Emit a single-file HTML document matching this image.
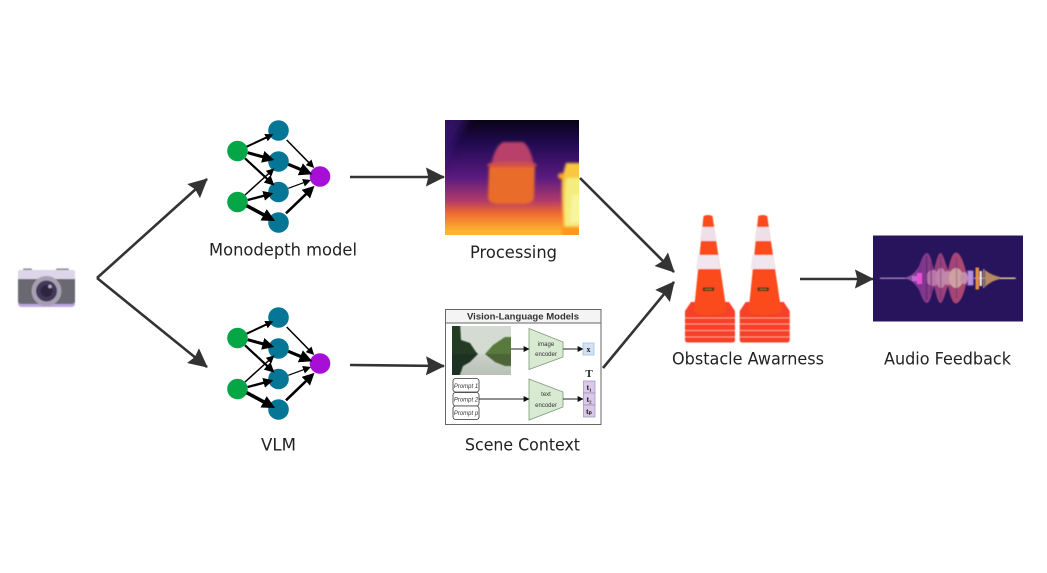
<!DOCTYPE html>
<html><head><meta charset="utf-8"><style>
html,body{margin:0;padding:0;background:#fff;width:1047px;height:573px;overflow:hidden}
svg{display:block}
.l{font-family:"DejaVu Sans","Liberation Sans",sans-serif;font-size:17px;fill:#222}
.h{font-family:"Liberation Sans",sans-serif;font-weight:bold;font-size:9.5px;fill:#333}
.s{font-family:"Liberation Sans",sans-serif;font-size:6px;fill:#333;text-anchor:middle}
.p{font-family:"Liberation Sans",sans-serif;font-style:italic;font-size:6px;fill:#333;text-anchor:middle}
.b{font-family:"Liberation Serif",serif;font-weight:bold;font-size:8px;fill:#222;text-anchor:middle}
</style></head><body>
<svg width="1047" height="573" viewBox="0 0 1047 573" xmlns="http://www.w3.org/2000/svg">
<defs>
<marker id="m8" viewBox="0 0 10 10" refX="7" refY="5" markerUnits="userSpaceOnUse" markerWidth="8" markerHeight="8" orient="auto"><path d="M0 0L10 5L0 10Z" fill="#000"/></marker>
<marker id="m10" viewBox="0 0 10 10" refX="7" refY="5" markerUnits="userSpaceOnUse" markerWidth="10" markerHeight="10" orient="auto"><path d="M0 0L10 5L0 10Z" fill="#000"/></marker>
<marker id="m12" viewBox="0 0 10 10" refX="7" refY="5" markerUnits="userSpaceOnUse" markerWidth="12" markerHeight="12" orient="auto"><path d="M0 0L10 5L0 10Z" fill="#000"/></marker>
<marker id="m13" viewBox="0 0 10 10" refX="7" refY="5" markerUnits="userSpaceOnUse" markerWidth="13" markerHeight="13" orient="auto"><path d="M0 0L10 5L0 10Z" fill="#000"/></marker>
<marker id="big" viewBox="0 0 20 20" refX="19" refY="10" markerUnits="userSpaceOnUse" markerWidth="19" markerHeight="19" orient="auto"><path d="M0 0L20 10L0 20L2.500 10Z" fill="#333"/></marker>
<marker id="sm" viewBox="0 0 10 10" refX="9" refY="5" markerUnits="userSpaceOnUse" markerWidth="6" markerHeight="6" orient="auto"><path d="M0 0L10 5L0 10Z" fill="#111"/></marker>
<linearGradient id="dg" x1="0" y1="0" x2="0" y2="1">
<stop offset="0" stop-color="#0a0416"/><stop offset=".2" stop-color="#200a50"/><stop offset=".5" stop-color="#5a1a80"/><stop offset=".7" stop-color="#b03a6a"/><stop offset=".81" stop-color="#ee6a30"/><stop offset=".96" stop-color="#fdb030"/><stop offset="1" stop-color="#fdb932"/>
</linearGradient>
<linearGradient id="wat" x1="0" y1="0" x2="0" y2="1"><stop offset="0" stop-color="#cdd2cb"/><stop offset="1" stop-color="#b8c0b8"/></linearGradient>
<linearGradient id="env" x1="0" y1="0" x2="1" y2="0"><stop offset="0" stop-color="#a065b5"/><stop offset=".25" stop-color="#7a3590"/><stop offset=".55" stop-color="#96407e"/><stop offset="1" stop-color="#b04870"/></linearGradient>
<filter id="b1" x="-20%" y="-20%" width="140%" height="140%"><feGaussianBlur stdDeviation="1.3"/></filter>
<filter id="b3" x="-30%" y="-30%" width="160%" height="160%"><feGaussianBlur stdDeviation="5"/></filter>
<filter id="b0" x="-10%" y="-10%" width="120%" height="120%"><feGaussianBlur stdDeviation=".5"/></filter>
<clipPath id="dc"><rect x="445" y="120" width="134" height="115"/></clipPath>
<clipPath id="ph"><rect x="452" y="326" width="59" height="49"/></clipPath>
<g id="net">
<circle cx="237.500" cy="151" r="10.300" fill="#04a645"/>
<circle cx="237.500" cy="202" r="10.300" fill="#04a645"/>
<circle cx="278.500" cy="130.500" r="10.300" fill="#057696"/>
<circle cx="278.500" cy="161.500" r="10.300" fill="#057696"/>
<circle cx="278.500" cy="192" r="10.300" fill="#057696"/>
<circle cx="278.500" cy="222.500" r="10.300" fill="#057696"/>
<circle cx="320" cy="176.500" r="10.300" fill="#a80fd6"/>
<g stroke="#000" fill="none">
<line x1="246.700" y1="146.700" x2="271.100" y2="135.300" stroke-width="2" marker-end="url(#m8)"/>
<line x1="247.700" y1="152.700" x2="270.800" y2="159" stroke-width="3" marker-end="url(#m12)"/>
<line x1="245" y1="158.300" x2="272.200" y2="183.600" stroke-width="2.200" marker-end="url(#m10)"/>
<line x1="245" y1="195" x2="272.600" y2="170" stroke-width="1.500" marker-end="url(#m8)"/>
<line x1="247.700" y1="200" x2="270.400" y2="194" stroke-width="2.400" marker-end="url(#m10)"/>
<line x1="246.700" y1="205.700" x2="271.600" y2="219.100" stroke-width="3.500" marker-end="url(#m13)"/>
<line x1="286.700" y1="140" x2="312.500" y2="166.300" stroke-width="1.500" marker-end="url(#m8)"/>
<line x1="288.300" y1="164.300" x2="308.700" y2="172.800" stroke-width="3.200" marker-end="url(#m13)"/>
<line x1="288.300" y1="188.300" x2="308.700" y2="180.800" stroke-width="1.300" marker-end="url(#m8)"/>
<line x1="286" y1="213.300" x2="311.900" y2="188.400" stroke-width="2.600" marker-end="url(#m12)"/>
</g>
</g>
<g id="cone">
<g filter="url(#b0)">
<path d="M691 302H729L735 311V340Q735 342.500 732 342.500H688Q685 342.500 685 340V311Z" fill="#f6412a"/>
<g stroke="#ff9a80" stroke-width="1">
<line x1="685" y1="318" x2="735" y2="318"/>
<line x1="685" y1="324" x2="735" y2="324"/>
<line x1="685" y1="330.500" x2="735" y2="330.500"/>
<line x1="685" y1="337" x2="735" y2="337"/>
</g>
<path d="M703.500 216Q708 214 712.500 216L725 300L727 312Q709 318 693 312L695 300Z" fill="#fb4b1e"/>
<path d="M701.800 227H714.200L716.200 241H700Z" fill="#eedfe8"/>
<path d="M697.800 255H718.200L720.200 269H696Z" fill="#f2e6ee"/>
<rect x="703" y="287.500" width="11" height="3.500" fill="#2a2018"/>
<rect x="704.500" y="288.700" width="8" height="1.100" fill="#a89030"/>
</g>
</g>
</defs>
<rect width="1047" height="573" fill="#fff"/>

<!-- camera -->
<g filter="url(#b0)">
<rect x="23" y="268.500" width="9" height="3" rx="1" fill="#8a8790"/>
<rect x="56" y="268.500" width="13" height="3" rx="1" fill="#8a8790"/>
<rect x="18" y="270" width="57" height="37" rx="3.500" fill="#bca6e0"/>
<rect x="18" y="270" width="57" height="34" rx="3" fill="#6b6870"/>
<path d="M18 279V273Q18 270 21 270H72Q75 270 75 273V279Z" fill="#dcd6e8"/>
<circle cx="46.500" cy="291" r="15" fill="#a5a1b0"/>
<circle cx="46.500" cy="291" r="10.500" fill="#43395a"/>
<circle cx="46.500" cy="291" r="6" fill="#2e2740"/>
<circle cx="50" cy="286.500" r="1.800" fill="#b6afc4"/>
</g>

<!-- networks -->
<use href="#net"/>
<use href="#net" y="187"/>

<!-- depth map -->
<g clip-path="url(#dc)">
<rect x="445" y="120" width="134" height="115" fill="url(#dg)"/>
<path d="M435 110H472L452 145L440 175Z" fill="#3d1578" opacity=".75" filter="url(#b3)"/>
<g filter="url(#b1)">
<path d="M503 142H523Q530 146 534 165H491Q495 146 503 142Z" fill="#b8406a"/>
<ellipse cx="512" cy="165" rx="25" ry="3.500" fill="#d0504e"/>
<path d="M489 167H535L534 198Q533 203 525 204H497Q489 203 488 198Z" fill="#ea6c2c"/>
<path d="M566 163H590V228H564Q561 200 562 178Z" fill="#f9c840"/>
<path d="M568 178H590V226H565Q564 200 566 180Z" fill="#f5ec80"/>
<path d="M572 195H590V222H570Z" fill="#f6f5a0"/>
<ellipse cx="561" cy="176" rx="3" ry="3" fill="#f5a020"/>
<rect x="562" y="227" width="27" height="10" fill="#fb9a1c"/>
</g>
</g>

<!-- VLM panel -->
<rect x="445.500" y="309.500" width="155.500" height="115" fill="#fff" stroke="#666" stroke-width="1"/>
<rect x="445.500" y="309.500" width="155.500" height="13.500" fill="#f4f4f4" stroke="#666" stroke-width="1"/>
<text x="523" y="319.500" class="h" text-anchor="middle" textLength="112" lengthAdjust="spacingAndGlyphs">Vision-Language Models</text>
<g clip-path="url(#ph)">
<rect x="452" y="326" width="59" height="28" fill="#d3dbd2"/>
<rect x="452" y="354" width="59" height="21" fill="url(#wat)"/>
<g filter="url(#b0)">
<path d="M448 322H460L461 340L470 343L476 352L478 354H448Z" fill="#243a24"/>
<path d="M515 337H505L493 345L485 354H515Z" fill="#587a3c"/>
<path d="M448 354H478L470 362L463 366L458 380H448Z" fill="#1f3020"/>
<path d="M515 354H485L495 362L505 366H515Z" fill="#4d6338"/>
</g>
</g>
<path d="M529 328.500L563 342V357L529 369.500Z" fill="#d9ead3" stroke="#7e9a78" stroke-width=".8"/>
<path d="M529 379L563 392V407L529 420Z" fill="#d9ead3" stroke="#7e9a78" stroke-width=".8"/>
<text x="546" y="346" class="s">image</text><text x="546" y="356" class="s">encoder</text>
<text x="546" y="396" class="s">text</text><text x="546" y="407" class="s">encoder</text>
<g stroke="#222" stroke-width=".9" fill="none">
<line x1="511" y1="349" x2="529" y2="349" marker-end="url(#sm)"/>
<line x1="563" y1="349" x2="583" y2="349" marker-end="url(#sm)"/>
<line x1="479" y1="399" x2="529" y2="399" marker-end="url(#sm)"/>
<line x1="563" y1="399" x2="583" y2="399" marker-end="url(#sm)"/>
</g>
<rect x="583" y="343" width="11" height="12" fill="#d3e3f5" stroke="#9db8d8" stroke-width=".7"/>
<text x="588.500" y="352" class="b">x</text>
<text x="589" y="377" class="b" style="font-size:11px">T</text>
<rect x="583.500" y="381" width="11.500" height="12" fill="#d9c8e8" stroke="#a08cba" stroke-width=".7"/>
<rect x="583.500" y="393" width="11.500" height="12" fill="#d9c8e8" stroke="#a08cba" stroke-width=".7"/>
<rect x="583.500" y="405" width="11.500" height="12" fill="#d9c8e8" stroke="#a08cba" stroke-width=".7"/>
<text x="589" y="390" class="b">t₁</text><text x="589" y="402" class="b">t₂</text><text x="589" y="414" class="b">tₚ</text>
<rect x="453" y="378.500" width="26" height="13.500" rx="2.500" fill="#fff" stroke="#333" stroke-width=".8"/>
<rect x="453" y="392.500" width="26" height="13.500" rx="2.500" fill="#fff" stroke="#333" stroke-width=".8"/>
<rect x="453" y="406" width="26" height="13.500" rx="2.500" fill="#fff" stroke="#333" stroke-width=".8"/>
<text x="466" y="388" class="p">Prompt 1</text><text x="466" y="401.500" class="p">Prompt 2</text><text x="466" y="415" class="p">Prompt p</text>

<!-- cones -->
<use href="#cone"/>
<use href="#cone" x="54.700"/>

<!-- audio -->
<rect x="873" y="235.500" width="150" height="86" fill="#27145c"/>
<g filter="url(#b0)">
<line x1="880" y1="278.300" x2="1016" y2="278.300" stroke="#c9b4d6" stroke-width="1"/>
<path d="M903 278C912 277 916 271 919 266C922 258 924 253 927 253C930 253 932 262 934 270C936 262 938 253 940.500 253C943 253 945 262 948 270C950 262 952 252.500 956 252.500C960 252.500 964 262 966 272L967 278L966 284C964 294 960 303.500 956 303.500C952 303.500 950 294 948 286C945 294 943 303 940.500 303C938 303 936 294 934 286C932 294 930 303 927 303C924 303 922 298 919 290C916 285 912 279 903 278Z" fill="url(#env)"/>
<rect x="966" y="270" width="8" height="16" rx="2" fill="#4a35a8"/>
<ellipse cx="933" cy="278" rx="7" ry="8" fill="#b976a8"/>
<ellipse cx="941" cy="278" rx="5" ry="10" fill="#c283a6"/>
<ellipse cx="948" cy="278" rx="6" ry="7" fill="#c087a8"/>
<ellipse cx="956" cy="278" rx="7" ry="10" fill="#cfa0a0"/>
<ellipse cx="964" cy="278" rx="4" ry="6" fill="#c58ea8"/>
<rect x="968" y="271" width="5" height="14" fill="#b890d8"/>
<rect x="917" y="273" width="5" height="11" fill="#e84fd6"/>
<rect x="912" y="276" width="5" height="5" fill="#c368d0"/>
<rect x="975.500" y="267.500" width="3.500" height="22" fill="#e8903a"/>
<rect x="979.500" y="271" width="2.500" height="15" fill="#efe4dc"/>
<rect x="983" y="269" width="1.500" height="19" fill="#a48a70"/>
<path d="M985 270Q991 275 1000 277V279Q991 281 985 287Z" fill="#b88a5e"/>
<path d="M1000 277.500H1015V279H1000Z" fill="#d8cc9a"/>
<rect x="926" y="256" width="1.300" height="44" fill="#3e1a68" opacity=".55"/>
<rect x="930.500" y="262" width="1.300" height="32" fill="#3e1a68" opacity=".5"/>
<rect x="940" y="256" width="1.300" height="44" fill="#4a1f70" opacity=".35"/>
<rect x="956" y="258" width="1.300" height="40" fill="#4a1f70" opacity=".3"/>
</g>

<!-- big arrows -->
<g stroke="#333" stroke-width="2.600" fill="none">
<path d="M97 278L207 179" marker-end="url(#big)"/>
<path d="M97 278L207 367" marker-end="url(#big)"/>
<line x1="350" y1="177" x2="444" y2="177" marker-end="url(#big)"/>
<line x1="350" y1="365" x2="444" y2="366" marker-end="url(#big)"/>
<line x1="580" y1="178" x2="674" y2="272" marker-end="url(#big)"/>
<line x1="603" y1="368" x2="674" y2="282" marker-end="url(#big)"/>
<line x1="800" y1="279" x2="873" y2="279" marker-end="url(#big)"/>
</g>

<!-- labels -->
<text x="209" y="255.500" class="l" textLength="148" lengthAdjust="spacingAndGlyphs">Monodepth model</text>
<text x="470" y="258" class="l" textLength="87" lengthAdjust="spacingAndGlyphs">Processing</text>
<text x="261" y="450.500" class="l" textLength="35" lengthAdjust="spacingAndGlyphs">VLM</text>
<text x="465" y="450.500" class="l" textLength="115" lengthAdjust="spacingAndGlyphs">Scene Context</text>
<text x="672" y="364.500" class="l" textLength="152" lengthAdjust="spacingAndGlyphs">Obstacle Awarness</text>
<text x="884" y="364.500" class="l" textLength="127" lengthAdjust="spacingAndGlyphs">Audio Feedback</text>
</svg>
</body></html>
